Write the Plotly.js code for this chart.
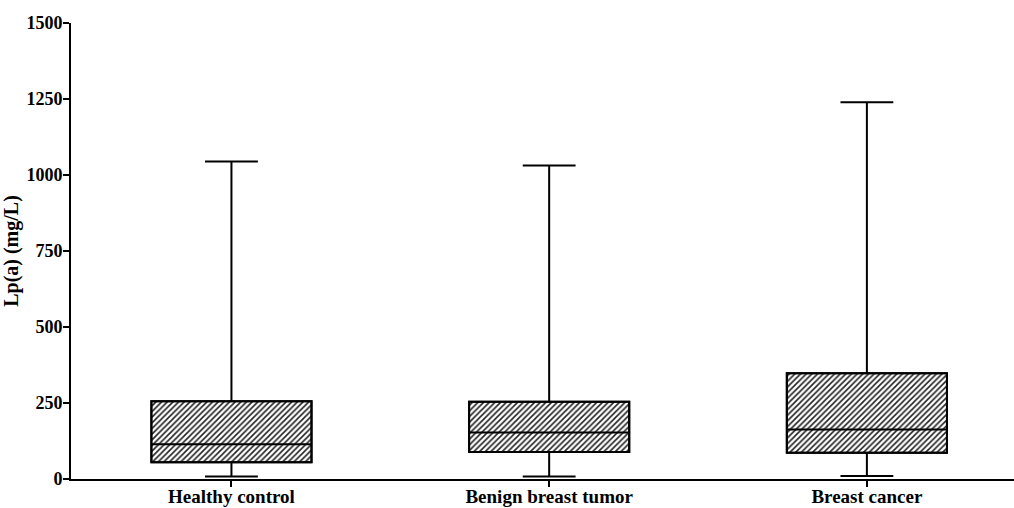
<!DOCTYPE html>
<html>
<head>
<meta charset="utf-8">
<script src="https://cdn.plot.ly/plotly-3.0.1.min.js"></script>
<style>html,body{margin:0;padding:0;background:#fff;}#chart{width:1014px;height:508px;}</style>
</head>
<body>
<div id="chart"></div>
<script>
const categories = ["Healthy control", "Benign breast tumor", "Breast cancer"];
const lowerFence = [8, 8, 10];
const q1 = [55, 89, 86];
const median = [114, 153, 163];
const q3 = [256, 254, 348];
const upperFence = [1044, 1031, 1239];
const yTicks = [0, 250, 500, 750, 1000, 1250, 1500];

const fam = "Liberation Serif, Times New Roman, serif";

const hatch = {
  type: "bar",
  x: categories,
  y: q3.map((v, i) => v - q1[i]),
  base: q1,
  width: 0.504,
  marker: {
    color: "#fff",
    line: {color: "#000", width: 2},
    pattern: {shape: "/", fgcolor: "#222", bgcolor: "#fff", size: 4, solidity: 0.4}
  },
  hoverinfo: "skip",
  showlegend: false
};

const box = {
  type: "box",
  x: categories,
  q1: q1,
  median: median,
  q3: q3,
  lowerfence: lowerFence,
  upperfence: upperFence,
  width: 0.504,
  whiskerwidth: 0.33,
  fillcolor: "rgba(0,0,0,0)",
  line: {color: "#000", width: 2},
  showlegend: false
};

const layout = {
  width: 1014, height: 508,
  margin: {l: 71, r: 0, t: 23, b: 29},
  paper_bgcolor: "#fff", plot_bgcolor: "#fff",
  font: {family: fam, size: 19, color: "#000"},
  showlegend: false,
  barmode: "overlay",
  xaxis: {
    type: "category",
    range: [-0.505, 2.463],
    showline: true, linecolor: "#000", linewidth: 2,
    ticks: "outside", ticklen: 6, tickwidth: 2, tickcolor: "#000",
    ticklabelstandoff: -7,
    showgrid: false, zeroline: false,
    tickfont: {family: fam, size: 19, color: "#000", weight: "bold"}
  },
  yaxis: {
    range: [0, 1500],
    tickvals: yTicks,
    ticktext: yTicks.map(String),
    showline: true, linecolor: "#000", linewidth: 2,
    ticks: "outside", ticklen: 6, tickwidth: 2, tickcolor: "#000",
    ticklabelstandoff: -3,
    showgrid: false, zeroline: false,
    tickfont: {family: fam, size: 18, color: "#000", weight: "bold"},
    title: {text: "Lp(a) (mg/L)", font: {family: fam, size: 20, color: "#000", weight: "bold"}, standoff: 6}
  }
};

Plotly.newPlot("chart", [hatch, box], layout, {displayModeBar: false, staticPlot: true});
</script>
</body>
</html>
